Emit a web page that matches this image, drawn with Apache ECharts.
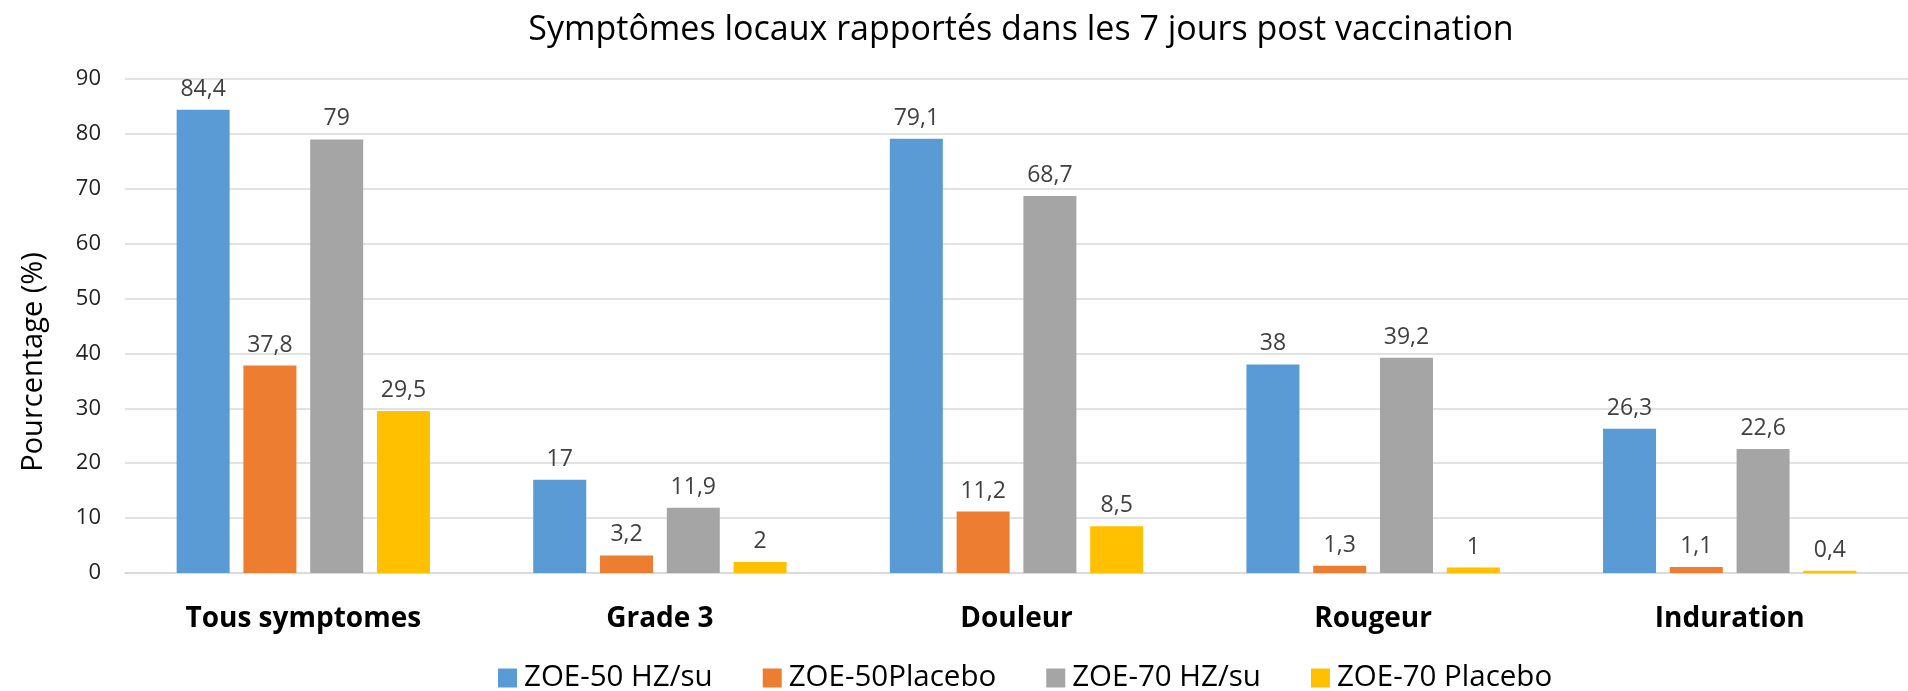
<!DOCTYPE html>
<html>
<head>
<meta charset="utf-8">
<title>Symptômes locaux</title>
<script src="https://cdn.jsdelivr.net/npm/echarts@6/dist/echarts.min.js"></script>
<style>
  html, body { margin: 0; padding: 0; background: #fff; }
  #chart { width: 1908px; height: 691px; }
</style>
</head>
<body>
<div id="chart"></div>
<script>
const categories = ['Tous symptomes', 'Grade 3', 'Douleur', 'Rougeur', 'Induration']
const seriesNames = ['ZOE-50 HZ/su', 'ZOE-50Placebo', 'ZOE-70 HZ/su', 'ZOE-70 Placebo']
const zoe50Vaccin = [84.4, 17, 79.1, 38, 26.3]
const zoe50Placebo = [37.8, 3.2, 11.2, 1.3, 1.1]
const zoe70Vaccin = [79, 11.9, 68.7, 39.2, 22.6]
const zoe70Placebo = [29.5, 2, 8.5, 1, 0.4]
const colors = ['#5B9BD5', '#ED7D31', '#A5A5A5', '#FFC000']

const FONT = '"Open Sans", sans-serif'
const chart = echarts.init(document.getElementById('chart'))

function barSeries(name, data, color) {
  return {
    name: name,
    type: 'bar',
    data: data,
    barWidth: 53,
    barGap: '26%',
    itemStyle: { color: color },
    label: {
      show: true,
      position: 'top',
      distance: 9,
      color: '#404040',
      fontFamily: FONT,
      fontSize: 23,
      formatter: p => String(p.value).replace('.', ',')
    }
  }
}

const option = {
  backgroundColor: '#fff',
  animation: false,
  title: {
    text: 'Symptômes locaux rapportés dans les 7 jours post vaccination',
    left: 1016,
    textAlign: 'center',
    top: 8,
    textStyle: { fontFamily: FONT, fontSize: 34, fontWeight: 'normal', color: '#000' }
  },
  legend: {
    data: seriesNames,
    left: 493,
    top: 658,
    icon: 'rect',
    itemWidth: 19,
    itemHeight: 19,
    itemGap: 50,
    textStyle: { fontFamily: FONT, fontSize: 29.5, color: '#000', padding: [0, 0, 0, 2] }
  },
  grid: { left: 125, top: 79, width: 1823, height: 494 },
  xAxis: {
    type: 'category',
    data: categories,
    axisTick: { show: false },
    axisLine: { lineStyle: { color: '#D9D9D9', width: 1.5 } },
    axisLabel: {
      margin: 32,
      fontFamily: FONT,
      fontSize: 28,
      fontWeight: 'bold',
      color: '#000'
    }
  },
  yAxis: {
    type: 'value',
    min: 0,
    max: 90,
    interval: 10,
    axisLine: { show: false },
    axisTick: { show: false },
    axisLabel: { margin: 24, fontFamily: FONT, fontSize: 22, color: '#222' },
    splitLine: { lineStyle: { color: '#D9D9D9', width: 1.5 } }
  },
  graphic: [
    {
      type: 'text',
      x: 34,
      y: 362,
      rotation: Math.PI / 2,
      style: {
        text: 'Pourcentage (%)',
        fontFamily: FONT,
        fontSize: 29,
        fill: '#000',
        textAlign: 'center',
        textVerticalAlign: 'middle'
      }
    }
  ],
  series: [
    barSeries(seriesNames[0], zoe50Vaccin, colors[0]),
    barSeries(seriesNames[1], zoe50Placebo, colors[1]),
    barSeries(seriesNames[2], zoe70Vaccin, colors[2]),
    barSeries(seriesNames[3], zoe70Placebo, colors[3])
  ]
}

chart.setOption(option)
</script>
</body>
</html>
